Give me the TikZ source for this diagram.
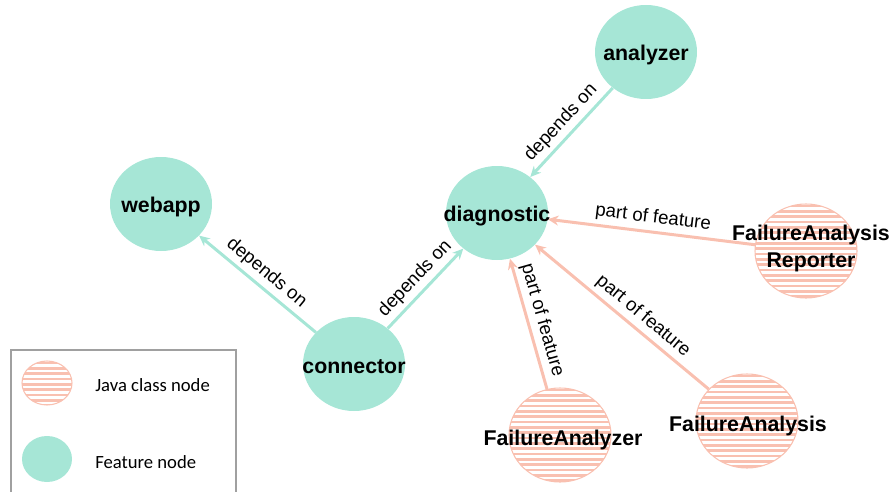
\documentclass[tikz,border=0pt]{standalone}
\usepackage{fontspec}
\setmainfont{Liberation Sans}
\newfontfamily\legendfont{Carlito}
\usetikzlibrary{shapes.geometric,arrows.meta}

\definecolor{featfill}{HTML}{A6E6D6}
\definecolor{classpink}{HTML}{F9C0B0}
\definecolor{legendgray}{HTML}{A0A0A0}

\tikzset{
  stripes/.style={path picture={
      \foreach \k in {0,...,30}{
        \draw[classpink, line width=1.9pt]
          ([yshift=-\k*4pt-1.5pt]path picture bounding box.north west) --
          ([yshift=-\k*4pt-1.5pt]path picture bounding box.north east);
      }}},
  feature/.style={ellipse, fill=featfill, minimum width=76.5pt,
    minimum height=70.5pt, inner sep=0pt},
  javaclass/.style={ellipse, draw=classpink, line width=0.8pt, stripes,
    minimum width=76.5pt, minimum height=70.5pt, inner sep=0pt},
  nodename/.style={font=\bfseries\fontsize{16}{20}\selectfont, align=center,
    inner sep=0pt, yshift=-2pt},
  dep/.style={draw=featfill, line width=2.25pt,
    -{Stealth[length=8pt,width=7.5pt]}},
  part/.style={draw=classpink, line width=2.25pt,
    -{Stealth[length=8pt,width=7.5pt]}},
  elabel/.style={font=\fontsize{14}{16}\selectfont, sloped, above,
    inner sep=3pt, midway},
  legendtext/.style={anchor=west, inner sep=0pt,
    font=\legendfont\fontsize{14}{16}\selectfont},
}

\begin{document}
\begin{tikzpicture}[x=0.75pt, y=-0.75pt]
\useasboundingbox (0,0) rectangle (893,492);

% feature nodes
\node[feature] (analyzer)  at (646,52)  {};
\node[feature] (diag)      at (497,213) {};
\node[feature] (webapp)    at (161,204) {};
\node[feature] (connector) at (354,364) {};

% java class nodes
\node[javaclass] (reporter) at (806,251) {};
\node[javaclass] (fanalyzer) at (560,435) {};
\node[javaclass] (fanalysis) at (747,421) {};

% dependencies between features
\draw[dep] (analyzer) -- node[elabel] {depends on} (diag);
\draw[dep] (connector) -- node[elabel] {depends on} (webapp);
\draw[dep] (connector) -- node[elabel] {depends on} (diag);

% classes belonging to the diagnostic feature
\draw[part] (reporter) -- node[elabel] {part of feature} (diag);
\draw[part] (fanalyzer) -- node[elabel] {part of feature} (diag);
\draw[part] (fanalysis) -- node[elabel, pos=0.43] {part of feature} (diag);

% node names
\node[nodename] (analyzerlbl)  at (analyzer)  {analyzer};
\node[nodename] (diaglbl)      at (diag)      {diagnostic};
\node[nodename] (webapplbl)    at (webapp)    {webapp};
\node[nodename] (connectorlbl) at (connector) {connector};
\node[nodename] (reporterlbl)  at (811,246)   {FailureAnalysis\\Reporter};
\node[nodename] (fanalyzerlbl) at (563,437)   {FailureAnalyzer};
\node[nodename] (fanalysislbl) at (748,423)   {FailureAnalysis};

% legend
\draw[legendgray, line width=1.2pt] (11,500) -- (11,350) -- (236,350) -- (236,500);
\node[javaclass, minimum width=37.5pt, minimum height=33pt] (legjava) at (47,383) {};
\node[feature, minimum width=37.5pt, minimum height=34.5pt] (legfeat) at (47,459) {};
\node[legendtext] (legjavatxt) at (95,385) {Java class node};
\node[legendtext] (legfeattxt) at (95,462) {Feature node};
\end{tikzpicture}
\end{document}
